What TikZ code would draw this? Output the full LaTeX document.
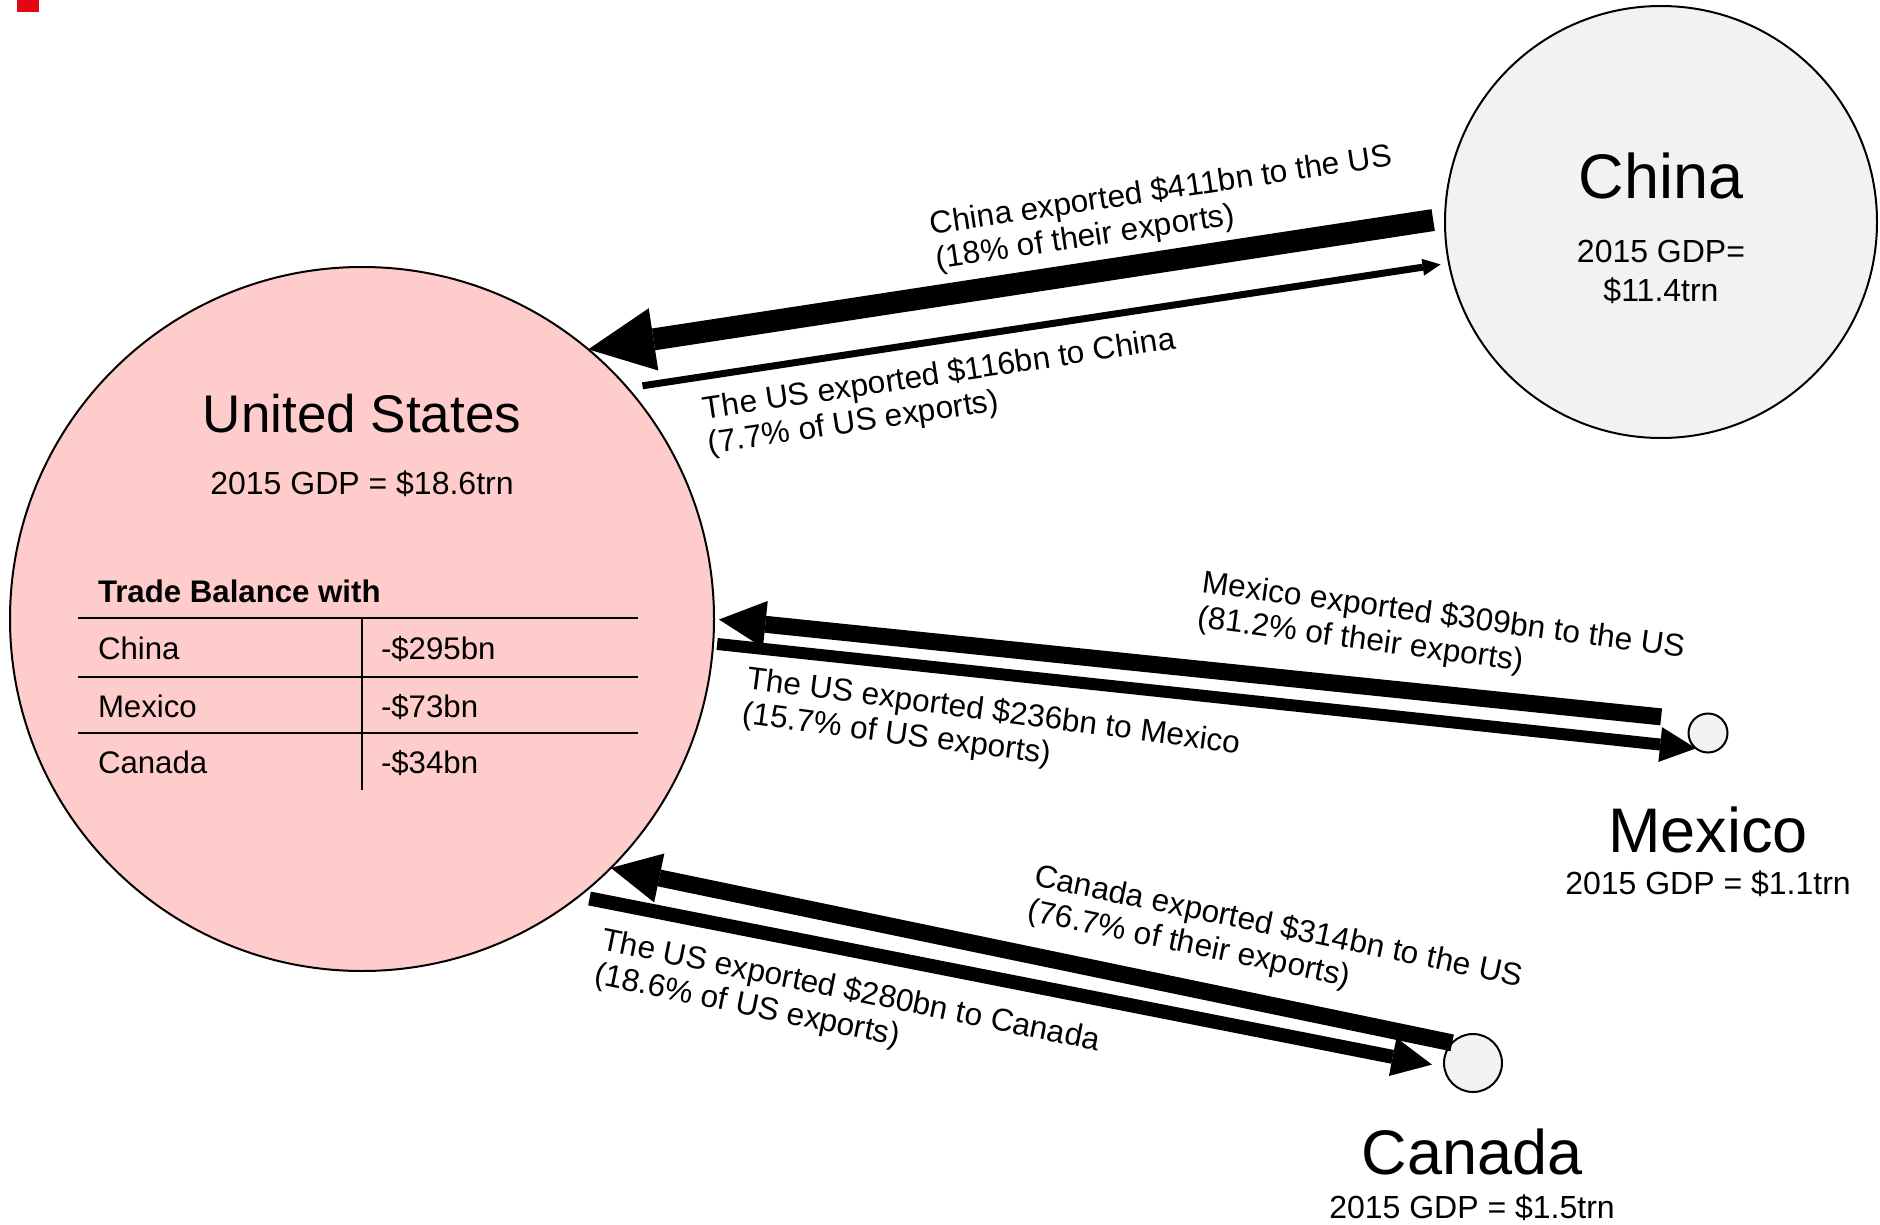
\documentclass[tikz,border=0pt]{standalone}
\usepackage{fontspec}
\setmainfont{Liberation Sans}
\usetikzlibrary{arrows.meta}
\definecolor{usPink}{RGB}{255,204,204}
\definecolor{cnGrey}{RGB}{242,242,242}
\definecolor{markRed}{RGB}{227,6,19}

\begin{document}
\begin{tikzpicture}[x=0.5pt,y=-0.5pt,
   country/.style={circle,draw,line width=1pt,fill=cnGrey,inner sep=0pt,outer sep=0pt},
   txt/.style={inner sep=0pt,outer sep=0pt},
   ctryname/.style={txt,anchor=base,font=\fontsize{31.5}{36}\selectfont},
   gdp/.style={txt,anchor=base,font=\fontsize{16}{19.5}\selectfont},
   cell/.style={txt,anchor=base west,font=\fontsize{15.6}{18}\selectfont},
   flowlabel/.style={txt,align=left,font=\fontsize{15.8}{17.5}\selectfont},
   tradeflow/.style n args={3}{line width=#1pt,-{Triangle[length=#2pt,width=#3pt,line width=0pt]}}]
   \fill[white] (0,0) rectangle (1880,1225);
   \useasboundingbox (0,0) rectangle (1880,1225);
   \fill[markRed] (17,0) rectangle (39,12);

   \node[country,fill=usPink,minimum size=352pt] (us) at (362,619) {};
   \node[country,minimum size=216pt] (china) at (1661,222) {};
   \node[country,minimum size=19.5pt] (mexico) at (1708,733) {};
   \node[country,minimum size=29pt] (canada) at (1473,1063) {};

   \node[ctryname,font=\fontsize{26.5}{30}\selectfont] (usName) at (362,432) {United States};
   \node[gdp] (usGdp) at (362,494) {2015 GDP = \$18.6trn};
   \node[ctryname] (cnName) at (1661,199) {China};
   \node[gdp] (cnGdp) at (1661,263) {2015 GDP=};
   \node[gdp] (cnGdpVal) at (1661,302) {\$11.4trn};
   \node[ctryname] (mxName) at (1708,852) {Mexico};
   \node[gdp] (mxGdp) at (1708,894) {2015 GDP = \$1.1trn};
   \node[ctryname] (caName) at (1472,1174) {Canada};
   \node[gdp] (caGdp) at (1472,1218) {2015 GDP = \$1.5trn};

   \node[cell,font=\bfseries\fontsize{15.6}{18}\selectfont] (tbHead) at (98,602) {Trade Balance with};
   \foreach \y/\c/\v in {659/China/-\$295bn,717/Mexico/-\$73bn,773/Canada/-\$34bn}{
      \node[cell] (row\c) at (98,\y) {\c};
      \node[cell] (val\c) at (381,\y) {\v};
   }
   \foreach \y in {618,677,733}
      \draw[line width=1pt] (78,\y) -- (638,\y);
   \draw[line width=1pt] (362,618) -- (362,790);

   \draw[tradeflow={11}{33}{31.5},shorten <=6pt] (china.179.4) -- (us.50.8);
   \draw[tradeflow={3.5}{9}{8.5},shorten <=7.5pt,shorten >=4.25pt] (us.41.6) -- (china.191.7);
   \draw[tradeflow={8.5}{23.3}{23.5},shorten <=16.15pt,shorten >=2.5pt] (mexico.139.8) -- (us.0.4);
   \draw[tradeflow={6}{18}{17.5},shorten <=2pt] (us.-4.5) -- (mexico.232);
   \draw[tradeflow={8.5}{24.7}{25}] (canada.136) -- (us.-45);
   \draw[tradeflow={7}{20}{19.5},shorten <=5.5pt,shorten >=6.3pt] (us.-52.9) -- (canada.188.7);

   \node[flowlabel,rotate=8.5] (cnLbl) at (1164,209) {China exported \$411bn to the US\\(18\% of their exports)};
   \node[flowlabel,rotate=8.5] (usCnLbl) at (942,393) {The US exported \$116bn to China\\(7.7\% of US exports)};
   \node[flowlabel,rotate=-7.7] (mxLbl) at (1441,634) {Mexico exported \$309bn to the US\\(81.2\% of their exports)};
   \node[flowlabel,rotate=-7.5] (usMxLbl) at (991,730) {The US exported \$236bn to Mexico\\(15.7\% of US exports)};
   \node[flowlabel,rotate=-11.7] (caLbl) at (1275,945) {Canada exported \$314bn to the US\\(76.7\% of their exports)};
   \node[flowlabel,rotate=-11.5] (usCaLbl) at (847,1009) {The US exported \$280bn to Canada\\(18.6\% of US exports)};
\end{tikzpicture}
\end{document}
